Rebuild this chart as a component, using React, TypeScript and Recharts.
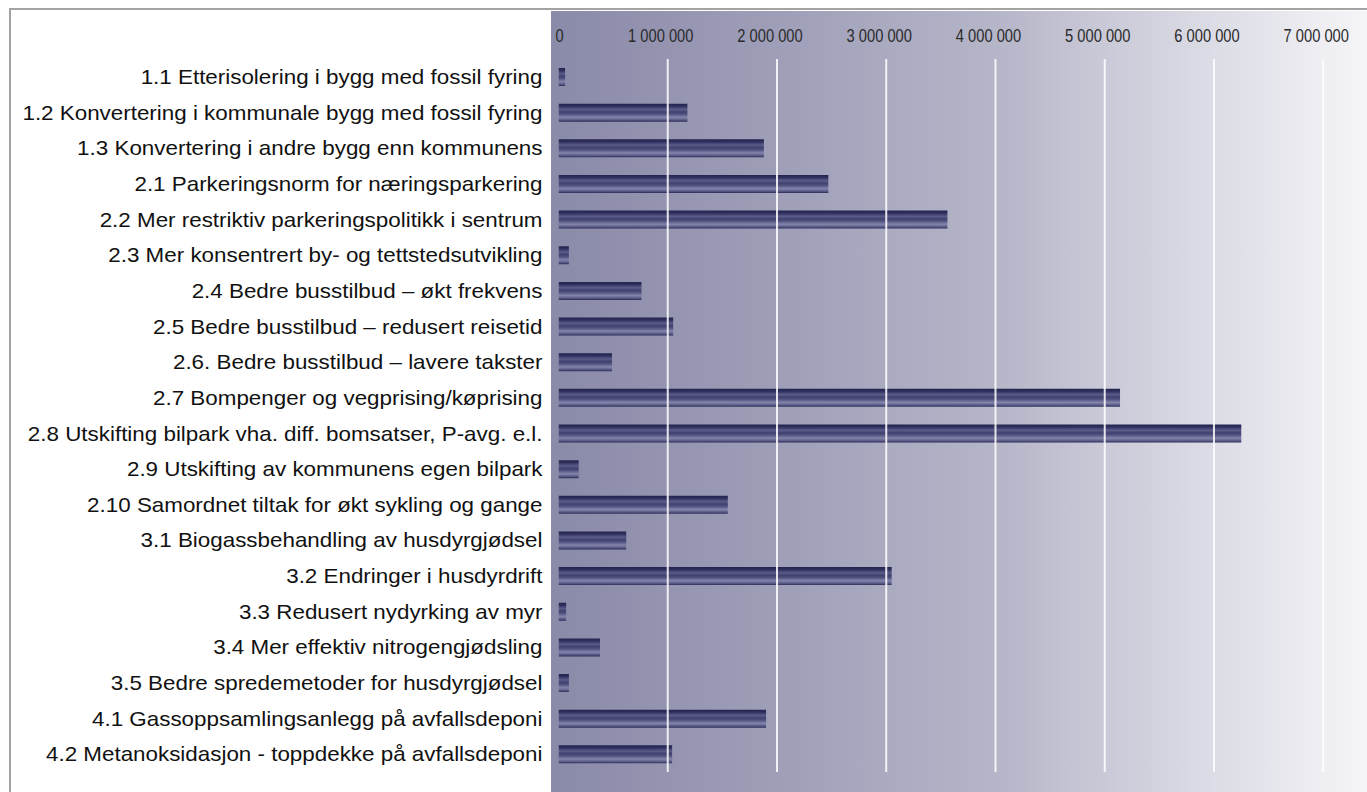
import React from "react";
import { BarChart, Bar, XAxis, YAxis, ReferenceLine } from "recharts";

const categories = [
  "1.1 Etterisolering i bygg med fossil fyring",
  "1.2 Konvertering i kommunale bygg med fossil fyring",
  "1.3 Konvertering i andre bygg enn kommunens",
  "2.1 Parkeringsnorm for næringsparkering",
  "2.2 Mer restriktiv parkeringspolitikk i sentrum",
  "2.3 Mer konsentrert by- og tettstedsutvikling",
  "2.4 Bedre busstilbud – økt frekvens",
  "2.5 Bedre busstilbud – redusert reisetid",
  "2.6. Bedre busstilbud – lavere takster",
  "2.7 Bompenger og vegprising/køprising",
  "2.8 Utskifting bilpark vha. diff. bomsatser, P-avg. e.l.",
  "2.9 Utskifting av kommunens egen bilpark",
  "2.10 Samordnet tiltak for økt sykling og gange",
  "3.1 Biogassbehandling av husdyrgjødsel",
  "3.2 Endringer i husdyrdrift",
  "3.3 Redusert nydyrking av myr",
  "3.4 Mer effektiv nitrogengjødsling",
  "3.5 Bedre spredemetoder for husdyrgjødsel",
  "4.1 Gassoppsamlingsanlegg på avfallsdeponi",
  "4.2 Metanoksidasjon - toppdekke på avfallsdeponi",
];

const values = [
  60000, 1180000, 1880000, 2470000, 3560000, 95000, 760000, 1050000, 490000, 5140000,
  6250000, 185000, 1550000, 620000, 3050000, 70000, 380000, 95000, 1900000, 1040000,
];

const xTicks = [0, 1000000, 2000000, 3000000, 4000000, 5000000, 6000000, 7000000];
const gridValues = [1000000, 2000000, 3000000, 4000000, 5000000, 6000000, 7000000];

const data = categories.map((name, i) => ({ name, value: values[i] }));

const fmt = (v: number) => String(v).replace(/\B(?=(\d{3})+(?!\d))/g, " ");
const FONT = '"Liberation Sans", Arial, sans-serif';

function CategoryTick({ x, y, payload }: any) {
  return (
    <g transform={`translate(${x - 16},${y})`}>
      <text transform="scale(1.12,1)" textAnchor="end" dy="0.36em" fontSize={20} fontFamily={FONT} fill="#111">
        {payload.value}
      </text>
    </g>
  );
}

function ValueTick({ x, y, payload }: any) {
  const first = payload.value === 0;
  return (
    <g transform={`translate(${first ? x - 3 : x - 7},${y - 23})`}>
      <text transform="scale(0.84,1)" textAnchor={first ? "start" : "middle"} dy="0.36em" fontSize={17.5} fontFamily={FONT} fill="#2a2a2a">
        {fmt(payload.value)}
      </text>
    </g>
  );
}

export default function App() {
  return (
    <div style={{ position: "absolute", left: 0, top: 0, width: 1367, height: 792, background: "#fff", overflow: "hidden" }}>
      <div style={{ position: "absolute", left: 9, top: 8, right: -5, bottom: -5, borderTop: "2px solid #a3a3a3", borderLeft: "2px solid #a3a3a3" }} />
      <div
        style={{
          position: "absolute", left: 551, top: 11, width: 816, height: 781,
          background: "linear-gradient(to right, #8a8aa9 0%, #a0a0ba 30%, #b6b6c9 55%, #d8d8e3 78%, #f5f5f8 100%)",
        }}
      />
      <div style={{ position: "absolute", left: 0, top: 0 }}>
        <BarChart
          width={1367}
          height={792}
          data={data}
          layout="vertical"
          margin={{ top: 0, right: 11, bottom: 20, left: 0 }}
        >
          <defs>
            <linearGradient id="barGrad" x1="0" y1="0" x2="0" y2="1">
              <stop offset="0%" stopColor="#22234e" />
              <stop offset="14%" stopColor="#2f305d" />
              <stop offset="32%" stopColor="#5b5c89" />
              <stop offset="46%" stopColor="#40416f" />
              <stop offset="58%" stopColor="#50517f" />
              <stop offset="76%" stopColor="#8485ab" />
              <stop offset="90%" stopColor="#5a5b87" />
              <stop offset="100%" stopColor="#2a2b56" />
            </linearGradient>
          </defs>
          <XAxis
            type="number"
            orientation="top"
            domain={[0, 7300000]}
            ticks={xTicks}
            height={59}
            tickSize={0}
            tickMargin={0}
            axisLine={false}
            tickLine={false}
            tick={<ValueTick />}
            allowDataOverflow
          />
          <YAxis
            type="category"
            dataKey="name"
            width={558.5}
            tickSize={0}
            tickMargin={0}
            axisLine={false}
            tickLine={false}
            interval={0}
            tick={<CategoryTick />}
          />
          {gridValues.map((v) => (
            <ReferenceLine key={v} x={v} stroke="#ffffff" strokeOpacity={0.85} strokeWidth={2} ifOverflow="extendDomain" />
          ))}
          <Bar dataKey="value" barSize={18} fill="url(#barGrad)" isAnimationActive={false} />
        </BarChart>
      </div>
    </div>
  );
}
